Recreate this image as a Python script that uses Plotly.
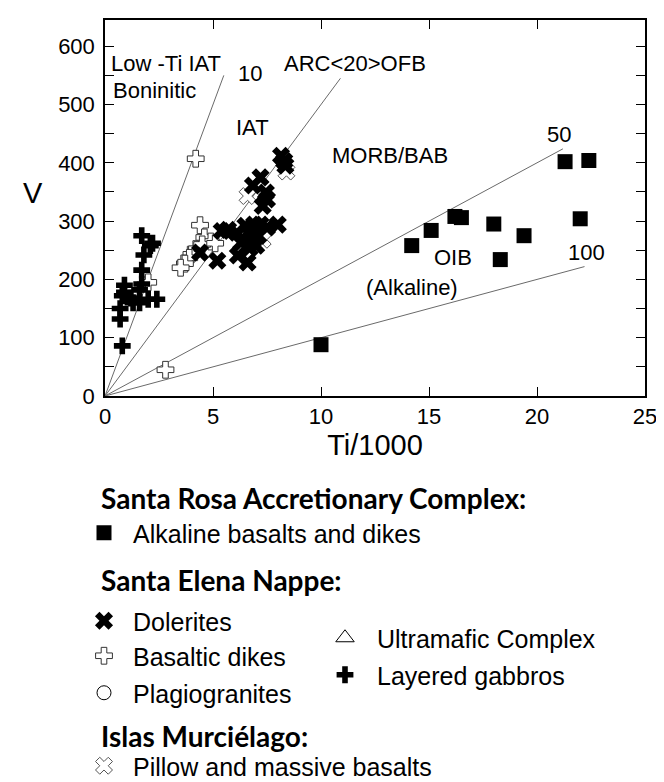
import plotly.graph_objects as go

# ---------------- data ----------------
alk_ti = [21.3, 22.4, 16.2, 16.5, 15.1, 14.2, 18.0, 19.4, 18.3, 22.0, 10.0]
alk_v = [402, 404, 308, 306, 284, 258, 295, 275, 234, 304, 88]

dol_ti = [8.15, 8.3, 8.35, 7.2, 6.85, 7.45, 7.5, 7.3, 8.0, 7.5, 6.9, 6.5, 5.7, 5.4,
          6.7, 6.7, 6.3, 7.0, 4.4, 5.2, 6.15, 6.6, 6.7, 7.1, 7.2, 6.1]
dol_v = [412, 403, 395, 375, 361, 349, 337, 326, 294, 289, 294, 292, 285, 283,
         277, 268, 263, 258, 246, 232, 241, 229, 254, 275, 294, 280]

dyk_ti = [4.2, 2.8, 4.4, 4.6, 4.9, 4.2, 4.0, 3.9, 3.7, 3.5, 4.5, 5.1, 2.0]
dyk_v = [407, 45, 293, 272, 265, 252, 243, 237, 227, 220, 260, 262, 195]

pla_ti, pla_v = [None], [None]   # no plagiogranite plots in this diagram
ult_ti, ult_v = [None], [None]   # no ultramafic plots in this diagram

gab_ti = [0.8, 0.7, 0.7, 0.8, 0.9, 1.2, 1.6, 1.7, 1.7, 1.8, 1.7, 2.1, 2.2, 2.4, 2.0, 0.9, 1.6, 1.3]
gab_v = [86, 132, 150, 172, 190, 168, 160, 192, 216, 242, 275, 258, 262, 166, 166, 178, 182, 160]

pil_ti = [6.6, 8.4, 7.3]
pil_v = [343, 385, 268]

# Ti/V reference lines: ratio and the Ti/1000 value where each line stops
ratios = [10, 20, 50, 100]
ratio_end_ti = [5.5, 10.9, 21.2, 22.2]

# field labels
field_text = ["Low -Ti IAT", "Boninitic", "10", "ARC&lt;20&gt;OFB", "IAT", "MORB/BAB",
              "50", "OIB", "(Alkaline)", "100"]
field_x = [0.2, 0.3, 6.7, 8.2, 6.85, 13.2, 21.0, 16.1, 14.2, 22.3]
field_y = [571, 524, 553, 571, 460, 412, 448, 237, 186, 246]
field_anchor = ["left", "left", "center", "left", "center", "center",
                "center", "center", "center", "center"]

x_ticks = [0, 5, 10, 15, 20, 25]
y_ticks = list(range(0, 601, 50))
y_ticktext = [str(v) if v % 100 == 0 else "" for v in y_ticks]

# ---------------- figure ----------------
W, H = 664, 782
L, R, T, B = 97, 27, 12, 394
PW, PH = W - L - R, H - T - B


def px(x):
    return (x - L) / PW


def py(y):
    return (H - B - y) / PH


fig = go.Figure()

for r, xe in zip(ratios, ratio_end_ti):
    fig.add_trace(go.Scatter(x=[0, xe], y=[0, 1000 * xe / r], mode="lines",
                             line=dict(color="#6a6a6a", width=1), showlegend=False,
                             hoverinfo="skip"))

FONT = "Liberation Sans, Arial, sans-serif"
BOLD = "Lato, Open Sans, sans-serif"


def add(name, xs, ys, symbol, size, color, lcolor, lwidth, legend):
    fig.add_trace(go.Scatter(
        x=xs, y=ys, mode="markers", name=name, legend=legend,
        marker=dict(symbol=symbol, size=size, color=color,
                    line=dict(color=lcolor, width=lwidth))))


add("Pillow and massive basalts", pil_ti, pil_v, "x", 15, "white", "#555", 1, "legend7")
add("Basaltic dikes", dyk_ti, dyk_v, "cross", 14, "white", "#333", 1, "legend3")
add("Layered gabbros", gab_ti, gab_v, "cross", 14, "black", "black", 0, "legend6")
add("Dolerites", dol_ti, dol_v, "x", 16, "black", "black", 0, "legend2")
add("Plagiogranites", pla_ti, pla_v, "circle", 14, "white", "black", 1, "legend4")
add("Ultramafic Complex", ult_ti, ult_v, "triangle-up", 16, "white", "black", 1, "legend5")
add("Alkaline basalts and dikes", alk_ti, alk_v, "square", 15, "black", "black", 0, "legend")

annotations = []
for t, x, y, a in zip(field_text, field_x, field_y, field_anchor):
    annotations.append(dict(x=x, y=y, xref="x", yref="y", text=t, showarrow=False,
                            xanchor=a, yanchor="middle",
                            font=dict(family=FONT, size=22, color="black")))

annotations.append(dict(x=px(25), y=py(185), xref="paper", yref="paper", text="V",
                        showarrow=False, xanchor="center", yanchor="middle",
                        font=dict(family=FONT, size=29, color="black")))

headings = [("Santa Rosa Accretionary Complex:", 490),
            ("Santa Elena Nappe:", 572),
            ("Islas Murciélago:", 728)]
for t, y in headings:
    annotations.append(dict(x=px(91), y=py(y), xref="paper", yref="paper",
                            text="<b>" + t + "</b>", showarrow=False,
                            xanchor="left", yanchor="middle",
                            font=dict(family=BOLD, size=28, color="black")))


def leg(xpix, ypix, iw, anchor="middle"):
    return dict(x=px(xpix), y=py(ypix), xanchor="left", yanchor=anchor,
                bgcolor="rgba(0,0,0,0)", borderwidth=0, itemwidth=iw,
                font=dict(family=FONT, size=25, color="black"))


fig.update_layout(
    width=W, height=H,
    margin=dict(l=L, r=R, t=T, b=B, autoexpand=False),
    paper_bgcolor="white", plot_bgcolor="white",
    showlegend=True,
    legend=leg(67, 525, 48),
    legend2=leg(67, 613, 48),
    legend3=leg(67, 648, 48),
    legend4=leg(67, 685, 48),
    legend5=leg(305, 630, 54),
    legend6=leg(305, 667, 54),
    legend7=leg(67, 781, 48, "bottom"),
    annotations=annotations,
    xaxis=dict(range=[0, 25], tickvals=x_ticks, ticks="inside", ticklen=9,
               tickcolor="black", showline=True, linecolor="black", linewidth=1.5,
               mirror="ticks", showgrid=False, zeroline=False,
               tickfont=dict(family=FONT, size=22, color="black"),
               title=dict(text="Ti/1000", standoff=2,
                          font=dict(family=FONT, size=29, color="black"))),
    yaxis=dict(range=[0, 645], tickvals=y_ticks, ticktext=y_ticktext, ticks="inside",
               ticklen=9, tickcolor="black", showline=True, linecolor="black",
               linewidth=1.5, mirror="ticks", showgrid=False, zeroline=False,
               ticklabelstandoff=4,
               tickfont=dict(family=FONT, size=22, color="black")),
)

fig.write_html("out.html")
